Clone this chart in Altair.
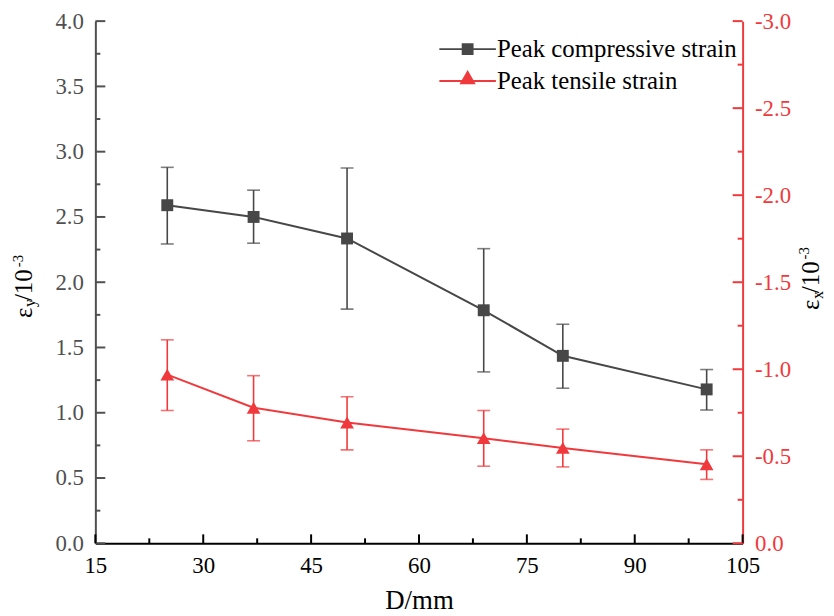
import altair as alt
import pandas as pd

# ---------------- data ----------------
D = [25, 37, 50, 69, 80, 100]
comp = [2.59, 2.50, 2.335, 1.785, 1.436, 1.179]
comp_hi = [2.88, 2.705, 2.875, 2.257, 1.678, 1.331]
comp_lo = [2.293, 2.299, 1.794, 1.313, 1.188, 1.021]
tens = [-0.969, -0.779, -0.694, -0.604, -0.548, -0.454]
tens_hi = [-1.169, -0.963, -0.842, -0.763, -0.656, -0.537]
tens_lo = [-0.763, -0.589, -0.537, -0.443, -0.439, -0.367]

series_names = ["Peak compressive strain", "Peak tensile strain"]

x_ticks = [15, 30, 45, 60, 75, 90, 105]
x_minor = [22.5, 37.5, 52.5, 67.5, 82.5, 97.5]
yl_ticks = [0.0, 0.5, 1.0, 1.5, 2.0, 2.5, 3.0, 3.5, 4.0]
yl_minor = [0.25, 0.75, 1.25, 1.75, 2.25, 2.75, 3.25, 3.75]
yr_ticks = [0.0, -0.5, -1.0, -1.5, -2.0, -2.5, -3.0]
yr_minor = [-0.25, -0.75, -1.25, -1.75, -2.25, -2.75]

x_title = "D/mm"
left_title = ["ε", "y", "/", "10", "-3"]
right_title = ["ε", "x", "/", "10", "-3"]

# ---------------- style ----------------
FONT = "Liberation Serif"
BLACK = "#474747"
RED = "#F0393C"
AXGRAY = "#505050"
W, H = 652, 526

df_c = pd.DataFrame({"D": D, "v": comp, "hi": comp_hi, "lo": comp_lo})
df_t = pd.DataFrame({"D": D, "v": tens, "hi": tens_hi, "lo": tens_lo})

xscale = alt.Scale(domain=[15, 105], nice=False, zero=False)
ylscale = alt.Scale(domain=[0, 4], nice=False, zero=False)
yrscale = alt.Scale(domain=[0, -3], nice=False, zero=False)

xaxis = alt.Axis(values=x_ticks, ticks=False, grid=False, domainColor="black",
                 domainWidth=2, labelFont=FONT, labelFontSize=23, labelColor="black",
                 labelPadding=11, labelFlush=False, labelOverlap=False,
                 title=x_title, titleFont=FONT, titleFontSize=27, titleFontWeight="normal",
                 titleColor="black", titlePadding=11)
ylaxis = alt.Axis(orient="left", values=yl_ticks, format=".1f", ticks=False, grid=False,
                  domainColor=AXGRAY, domainWidth=2, labelFont=FONT, labelFontSize=23,
                  labelColor=AXGRAY, labelPadding=12, labelOverlap=False, title="")
yraxis = alt.Axis(orient="right", values=yr_ticks, ticks=False, grid=False,
                  labelExpr="replace(format(datum.value, '.1f'), '\u2212', '-')",
                  domainColor=RED, domainWidth=2, labelFont=FONT, labelFontSize=23,
                  labelColor=RED, labelPadding=12, labelOverlap=False, title="")


def series_layers(df, color, yscale, yaxis, shape, size):
    base = alt.Chart(df)
    x_enc = alt.X("D:Q", scale=xscale, axis=xaxis)
    bars = base.mark_rule(color=color, strokeWidth=1.6).encode(
        x=x_enc, y=alt.Y("lo:Q", scale=yscale, axis=yaxis), y2="hi:Q")
    cap_lo = base.mark_tick(color=color, orient="horizontal", size=13, thickness=1.6).encode(
        x=x_enc, y=alt.Y("lo:Q", scale=yscale, axis=yaxis))
    cap_hi = base.mark_tick(color=color, orient="horizontal", size=13, thickness=1.6).encode(
        x=x_enc, y=alt.Y("hi:Q", scale=yscale, axis=yaxis))
    line = base.mark_line(color=color, strokeWidth=2).encode(
        x=x_enc, y=alt.Y("v:Q", scale=yscale, axis=yaxis))
    pts = base.mark_point(shape=shape, filled=True, size=size, color=color, opacity=1).encode(
        x=x_enc, y=alt.Y("v:Q", scale=yscale, axis=yaxis))
    return [bars, cap_lo, cap_hi, line, pts]


def yticks(vals, yscale, yaxis, color, x0, x1):
    return alt.Chart(pd.DataFrame({"t": vals})).mark_rule(color=color, strokeWidth=2).encode(
        y=alt.Y("t:Q", scale=yscale, axis=yaxis), x=alt.value(x0), x2=alt.value(x1))


def xticks(vals, length):
    return alt.Chart(pd.DataFrame({"t": vals})).mark_rule(color="black", strokeWidth=2).encode(
        x=alt.X("t:Q", scale=xscale, axis=xaxis), y=alt.value(H), y2=alt.value(H - length))


def title_piece(text, x, y, size):
    return alt.Chart(pd.DataFrame({"s": [text]})).mark_text(
        angle=270, align="left", baseline="alphabetic", font=FONT, fontSize=size,
        color="black").encode(x=alt.value(x), y=alt.value(y), text="s:N")


# legend symbols: line with marker (unit = 8 px)
path_sq = "M-3.56,0H3.56M-0.62,-0.62H0.62V0.62H-0.62Z"
path_tri = "M-3.56,0H3.56M0,-1.11L0.81,0.3H-0.81Z"
legend_layer = alt.Chart(pd.DataFrame({"series": series_names})).mark_point(
    filled=True, opacity=0).encode(
    shape=alt.Shape("series:N", scale=alt.Scale(domain=series_names, range=[path_sq, path_tri]),
                    title=None),
    fill=alt.Fill("series:N", scale=alt.Scale(domain=series_names, range=[BLACK, RED]), title=None),
    stroke=alt.Stroke("series:N", scale=alt.Scale(domain=series_names, range=[BLACK, RED]),
                      title=None),
)

left_titles = [
    title_piece(left_title[0], -64, 299, 25),
    title_piece(left_title[1], -61, 288, 16),
    title_piece(left_title[2], -64, 282, 25),
    title_piece(left_title[3], -64, 275, 25),
    title_piece(left_title[4], -73, 248, 15),
]
right_titles = [
    title_piece(right_title[0], W + 77, 291, 25),
    title_piece(right_title[1], W + 81, 280, 16),
    title_piece(right_title[2], W + 77, 274, 25),
    title_piece(right_title[3], W + 77, 267, 25),
    title_piece(right_title[4], W + 67, 240, 15),
]

left = alt.layer(
    *series_layers(df_c, BLACK, ylscale, ylaxis, "square", 144),
    yticks(yl_ticks, ylscale, ylaxis, AXGRAY, 0, 10),
    yticks(yl_minor, ylscale, ylaxis, AXGRAY, 0, 5),
    xticks(x_ticks, 9),
    xticks(x_minor, 5),
    legend_layer,
    *left_titles,
    *right_titles,
)
right = alt.layer(
    *series_layers(df_t, RED, yrscale, yraxis, "triangle-up", 190),
    yticks(yr_ticks, yrscale, yraxis, RED, W, W - 10),
    yticks(yr_minor, yrscale, yraxis, RED, W, W - 5),
)

chart = alt.layer(left, right).resolve_scale(y="independent").properties(
    width=W, height=H,
    autosize=alt.AutoSizeParams(type="none"),
    padding={"left": 88, "top": 11, "right": 84, "bottom": 70},
    background="white",
).configure_view(stroke=None).configure_legend(
    orient="none", legendX=362.5, legendY=15.7, padding=0, symbolSize=256,
    symbolStrokeWidth=2, symbolOpacity=1, labelFont=FONT, labelFontSize=25,
    labelColor="black", labelOffset=17, rowPadding=5, labelLimit=400,
)

chart.save("out.html", embed_options={"renderer": "svg", "actions": False})
